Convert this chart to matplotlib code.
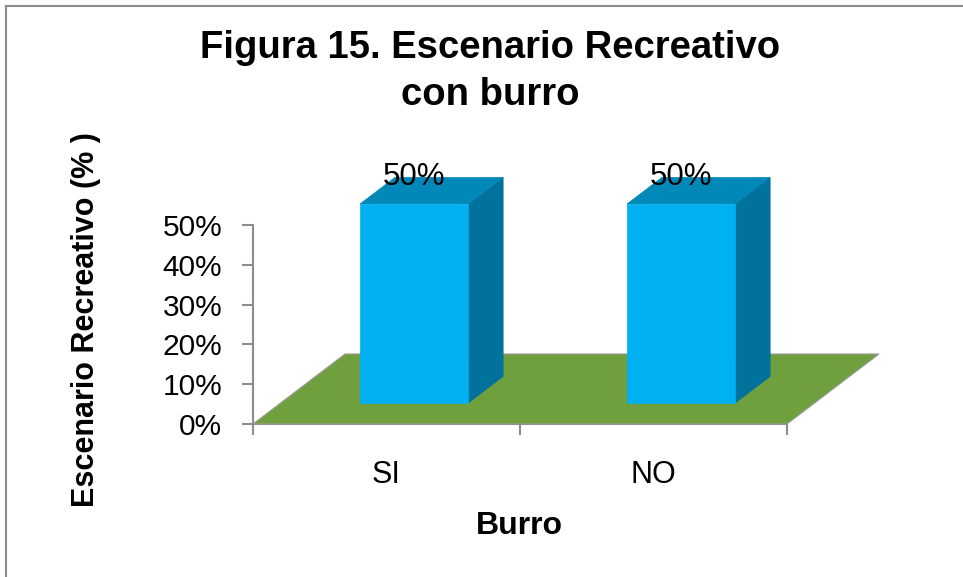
import matplotlib
matplotlib.use("Agg")
import matplotlib.pyplot as plt
from matplotlib.patches import Polygon
from matplotlib.lines import Line2D

categories = ["SI", "NO"]
values = [0.50, 0.50]
tick_labels = ["0%", "10%", "20%", "30%", "40%", "50%"]
tick_values = [0.0, 0.1, 0.2, 0.3, 0.4, 0.5]
data_labels = ["50%", "50%"]

plt.rcParams['font.family'] = ['Liberation Sans', 'DejaVu Sans']

W, H = 963, 577
fig = plt.figure(figsize=(W / 100, H / 100), dpi=100)
fig.patch.set_facecolor('white')

# outer frame (left and top visible)
fig.add_artist(Line2D([6 / W, 6 / W], [0, 1 - 6 / H], transform=fig.transFigure, color='#8c8c8c', lw=1.5))
fig.add_artist(Line2D([6 / W, 1], [1 - 6 / H, 1 - 6 / H], transform=fig.transFigure, color='#8c8c8c', lw=1.5))

left, right = 253 / W, 787 / W
bottom, top = 1 - 424 / H, 1 - 225 / H
ax = fig.add_axes([left, bottom, right - left, top - bottom])
ax.set_xlim(0, len(categories))
ax.set_ylim(0, 0.5)
ax.patch.set_alpha(0)

# depth projection (data units per unit depth)
DX = 92 / 267.0
DY = 70 / 398.0


def proj(x, y, d):
    return (x + d * DX, y + d * DY)


n = len(categories)
floor = Polygon([proj(0, 0, 0), proj(n, 0, 0), proj(n, 0, 1), proj(0, 0, 1)],
                closed=True, facecolor='#70A03E', edgecolor='#9a9a9a', lw=0.8,
                clip_on=False, zorder=1)
ax.add_patch(floor)

bw = 0.405
d0, d1 = 0.30, 0.68
for i, (cat, v) in enumerate(zip(categories, values)):
    c = i + 0.5
    x0, x1 = c - bw / 2, c + bw / 2
    front = [proj(x0, 0, d0), proj(x1, 0, d0), proj(x1, v, d0), proj(x0, v, d0)]
    side = [proj(x1, 0, d0), proj(x1, 0, d1), proj(x1, v, d1), proj(x1, v, d0)]
    topf = [proj(x0, v, d0), proj(x1, v, d0), proj(x1, v, d1), proj(x0, v, d1)]
    ax.add_patch(Polygon(side, closed=True, facecolor='#00729C', edgecolor='#00729C', lw=0.5, clip_on=False, zorder=3))
    ax.add_patch(Polygon(topf, closed=True, facecolor='#0088B8', edgecolor='#0088B8', lw=0.5, clip_on=False, zorder=3))
    ax.add_patch(Polygon(front, closed=True, facecolor='#00B0F0', edgecolor='#00B0F0', lw=0.5, clip_on=False, zorder=4))
    lx, ly = proj(c, v, d0)
    _, ly2 = proj(c, v, d1)
    ax.text(lx, ly2, data_labels[i], ha='center', va='center', fontsize=22.5, color='black', zorder=6, clip_on=False)

for s in ['top', 'right']:
    ax.spines[s].set_visible(False)
for s in ['left', 'bottom']:
    ax.spines[s].set_color('#8c8c8c')
    ax.spines[s].set_linewidth(1.5)
    ax.spines[s].set_zorder(0)

ax.set_yticks(tick_values)
ax.set_yticklabels(tick_labels, fontsize=21.5)
ax.set_xticks(range(n + 1))
ax.set_xticklabels([])
ax.set_xticks([i + 0.5 for i in range(n)], minor=True)
ax.set_xticklabels(categories, minor=True, fontsize=22)
ax.tick_params(axis='x', which='minor', length=0, pad=26)
ax.tick_params(axis='x', which='major', length=8, width=1.5, color='#8c8c8c', direction='out')
ax.tick_params(axis='y', length=8, width=1.5, color='#8c8c8c', direction='out', pad=14)

fig.text(490 / W, 1 - 48 / H, "Figura 15. Escenario Recreativo", ha='center', va='center',
         fontsize=27.5, fontweight='bold')
fig.text(490 / W, 1 - 95 / H, "con burro", ha='center', va='center',
         fontsize=27.5, fontweight='bold')
fig.text(86 / W, 1 - 320 / H, "Escenario Recreativo (% )", ha='center', va='center',
         rotation=90, fontsize=22, fontweight='bold')
fig.text(519 / W, 1 - 526 / H, "Burro", ha='center', va='center', fontsize=23, fontweight='bold')

fig.savefig("out.png", dpi=100, facecolor='white')
